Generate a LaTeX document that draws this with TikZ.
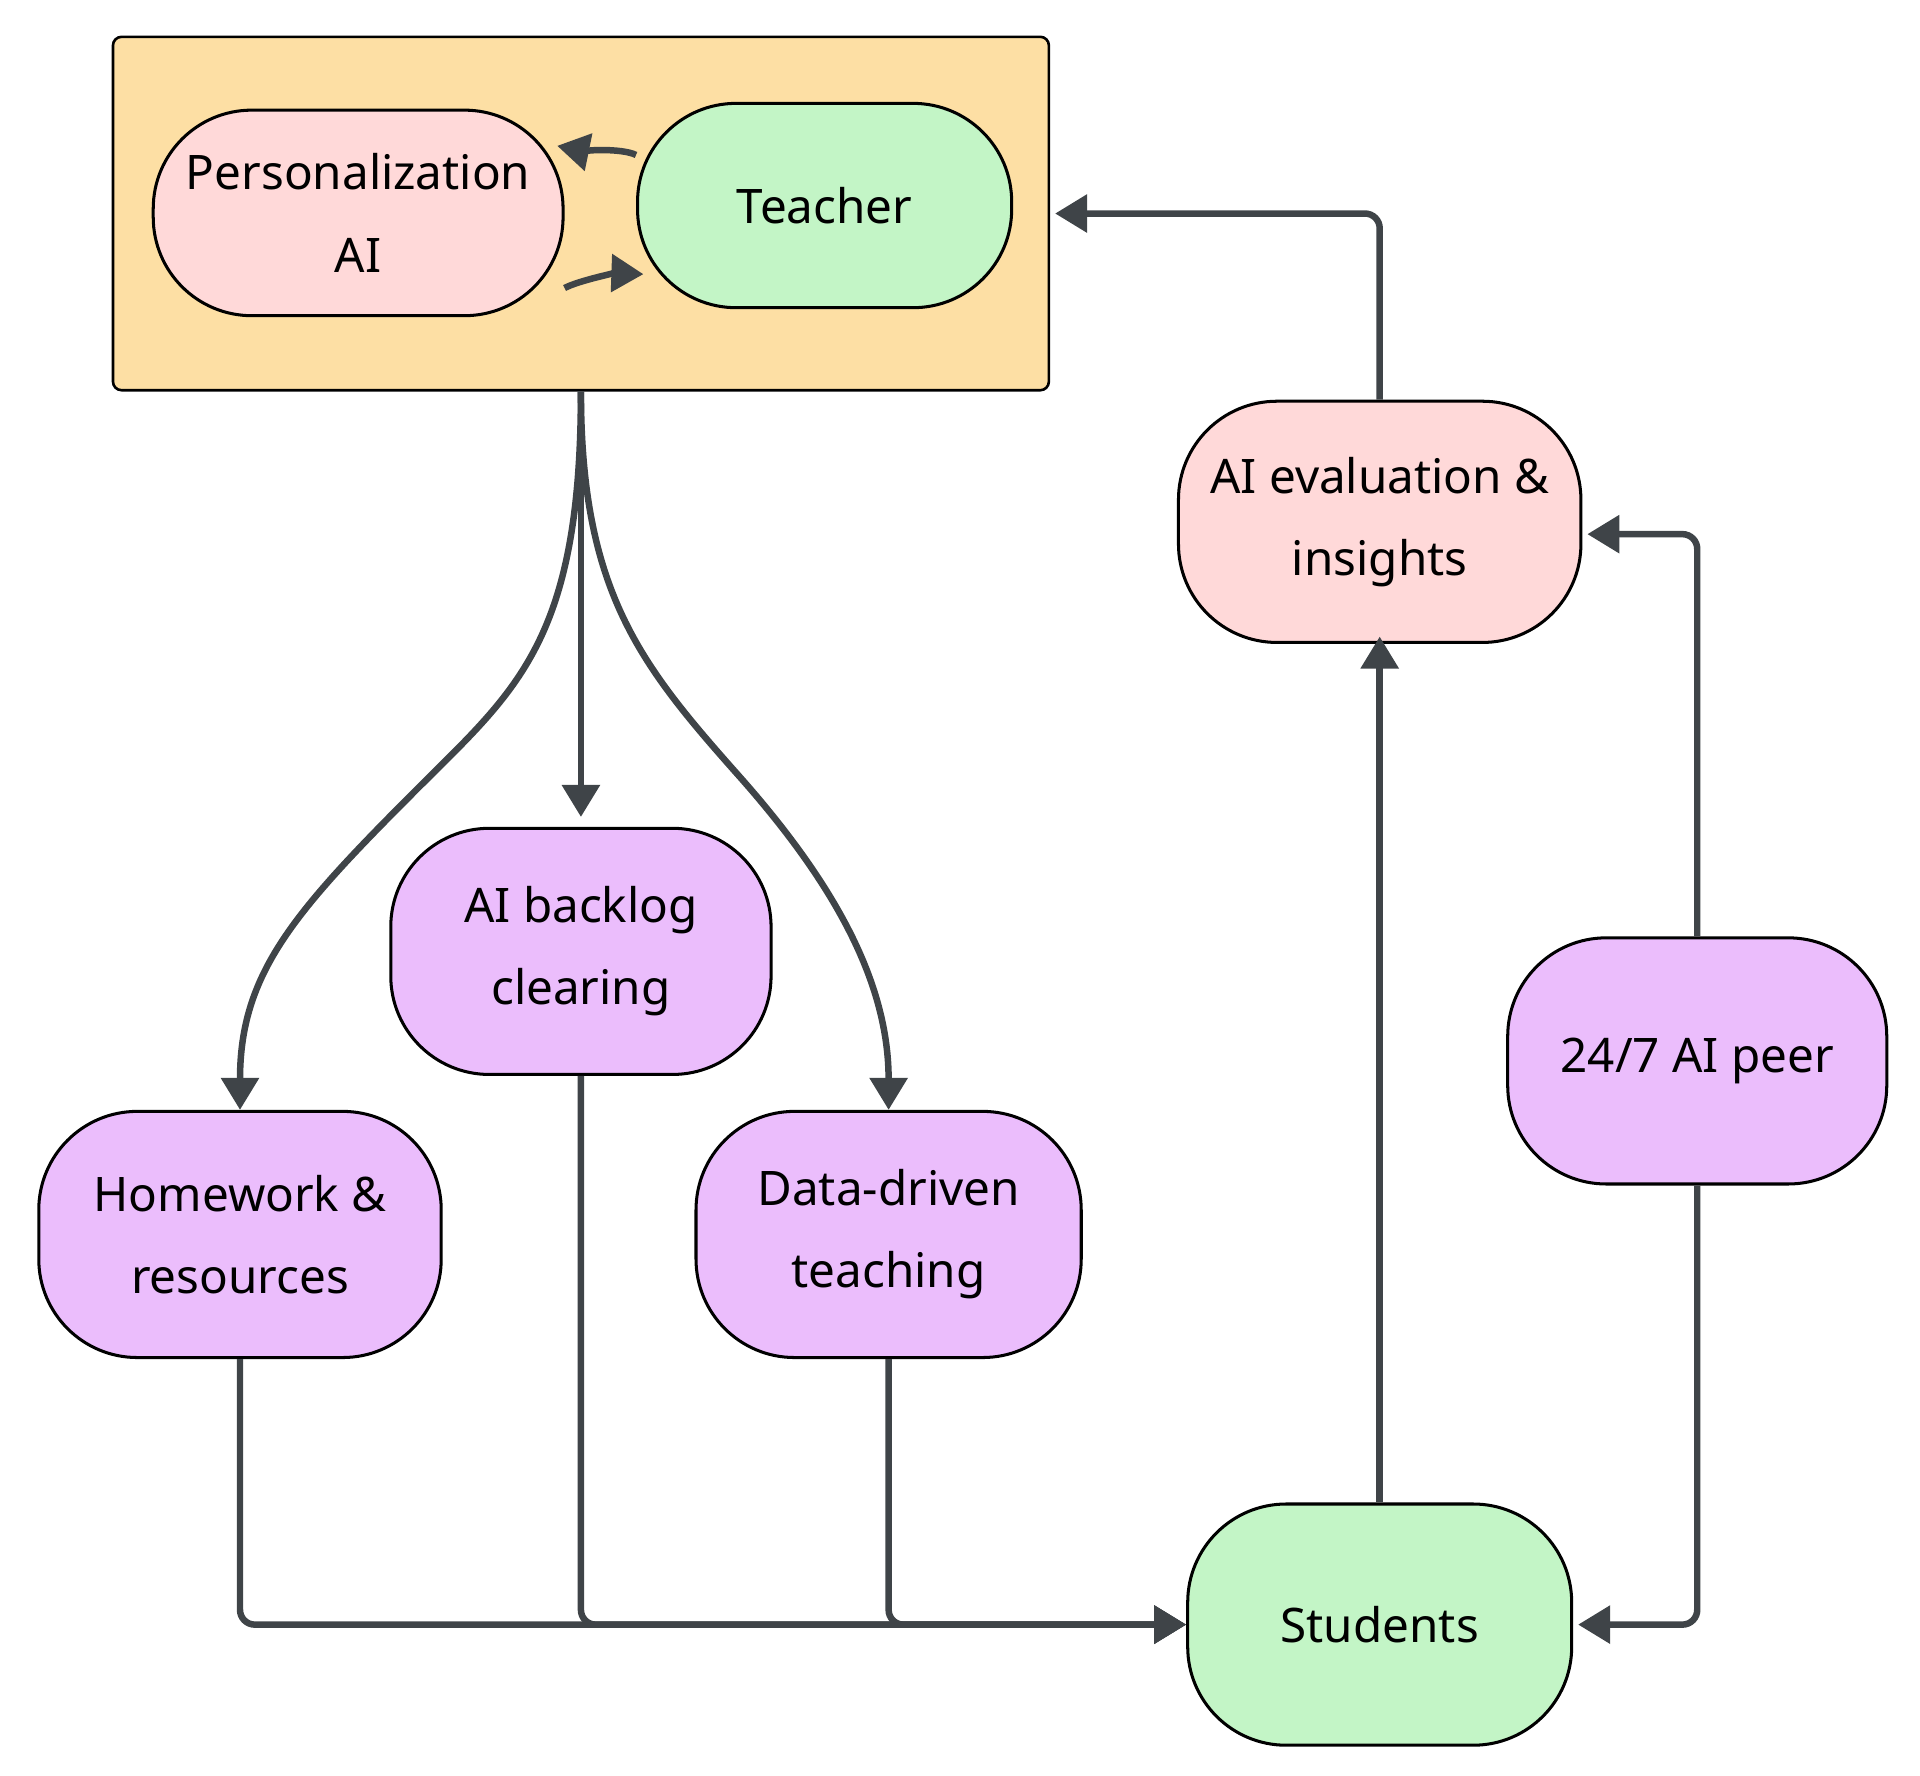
\documentclass[tikz,border=0pt]{standalone}
\usepackage{fontspec}
\setmainfont{Noto Sans}
\usetikzlibrary{arrows.meta,positioning}
\definecolor{boxfill}{HTML}{FDDFA4}
\definecolor{aipink}{HTML}{FFD9D9}
\definecolor{peoplegreen}{HTML}{C3F5C6}
\definecolor{toolpurple}{HTML}{EBBDFC}
\definecolor{linkgray}{HTML}{3F4448}
\begin{document}
\begin{tikzpicture}[x=0.01cm,y=-0.01cm,
	pill/.style={draw=black,line width=0.7pt,rounded corners=0.8cm,align=center,
		inner sep=0pt,font=\fontsize{11}{19}\selectfont},
	size/.style 2 args={minimum width=#1*0.01cm,minimum height=#2*0.01cm},
	link/.style={draw=linkgray,line width=1.5pt,rounded corners=0.12cm,
		-{Triangle[length=0.26cm,width=0.3cm]}}]

		\useasboundingbox (0,0) rectangle (1560,1443);

		% the group
		\node[draw=black,fill=boxfill,line width=0.6pt,rounded corners=2pt,
			minimum width=7.6cm,minimum height=2.87cm] (group) at (472,173.5) {};
		\node[pill,fill=aipink,size={333}{167}] (persai) at (291,173) {Personalization\\AI};
		\node[pill,fill=peoplegreen,size={304}{166}] (teacher) at (670,167) {Teacher};

		\node[pill,fill=aipink,size={327}{196}] (evaluation) at (1121,424) {AI evaluation \&\\insights};
		\node[pill,fill=toolpurple,size={309}{200}] (backlog) at (472,773) {AI backlog\\clearing};
		\node[pill,fill=toolpurple,size={327}{200}] (homework) at (195,1003) {Homework \&\\resources};
		\node[pill,fill=toolpurple,size={313}{200}] (datadriven) at (722,1003) {Data-driven\\teaching};
		\node[pill,fill=toolpurple,size={308}{200}] (peer) at (1379,862) {24/7 AI peer};
		\node[pill,fill=peoplegreen,size={312}{196}] (students) at (1121,1320) {Students};

		% inside the group
		\draw[link] (persai.-20) .. controls (470,228) and (500,222) .. ([xshift=0.06cm]teacher.200);
		\draw[link] (teacher.165) .. controls (505,120) and (470,122) .. ([xshift=-0.06cm]persai.18);

		% out of the group
		\draw[link,rounded corners=0] (group.south) .. controls (472,520) and (420,560) .. (340,640)
			.. controls (240,740) and (195,790) .. (homework.north);
		\draw[link] (group.south) -- ([yshift=0.08cm]backlog.north);
		\draw[link,rounded corners=0] (group.south) .. controls (472,480) and (520,540) .. (600,630)
			.. controls (680,720) and (722,800) .. (datadriven.north);

		% to the students
		\draw[link] (homework.south) |- (students.west);
		\draw[link] (backlog.south) |- (students.west);
		\draw[link] (datadriven.south) |- (students.west);
		\draw[link] (peer.south) |- ([xshift=0.04cm]students.east);

		% back to the group
		\draw[link] (students.north) -- ([yshift=0.06cm]evaluation.south);
		\draw[link] (peer.north) |- ([xshift=0.04cm,yshift=-0.1cm]evaluation.east);
		\draw[link] (evaluation.north) |- ([xshift=0.04cm]group.east);
	\end{tikzpicture}
\end{document}
